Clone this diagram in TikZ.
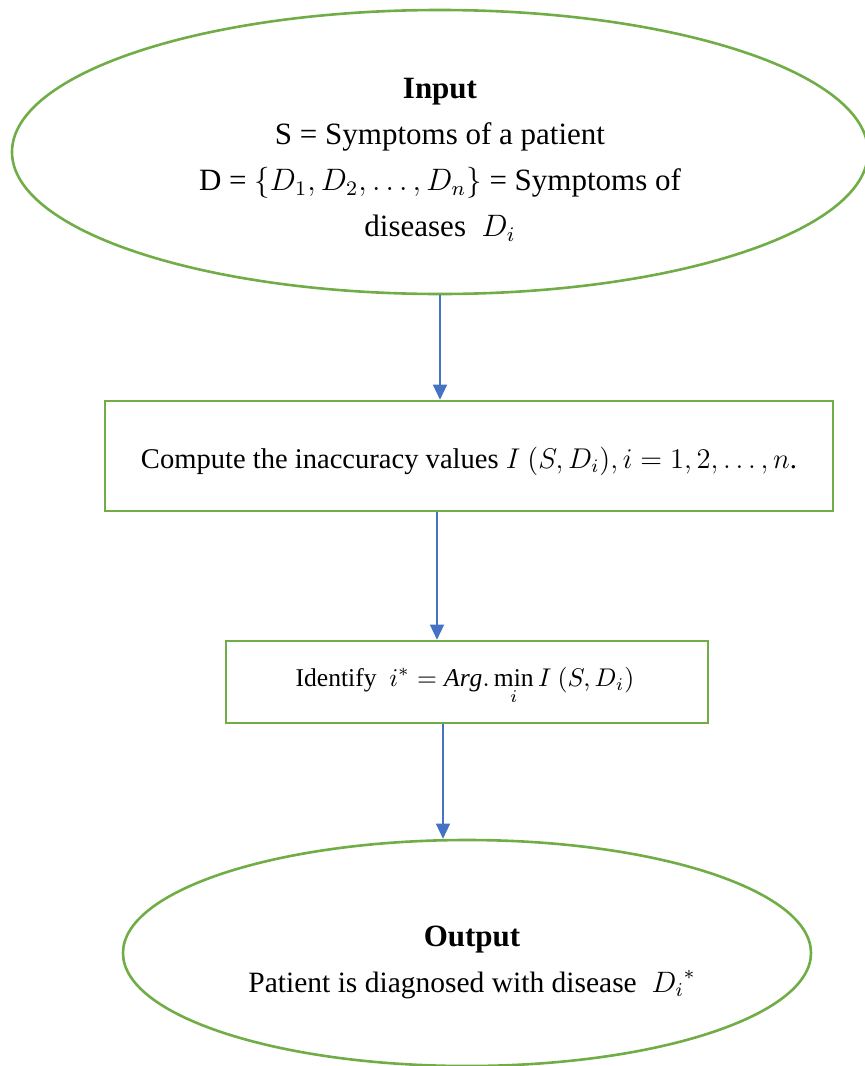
\documentclass[tikz,border=0pt]{standalone}
\usepackage{fontspec}
\setmainfont{Liberation Serif}
\usetikzlibrary{shapes.geometric,arrows.meta}
\definecolor{boxgreen}{HTML}{70AD47}
\definecolor{arrowblue}{HTML}{4472C4}
\tikzset{
  greenline/.style={draw=boxgreen,line width=2.6pt},
  startend/.style={greenline,ellipse,inner sep=0pt},
  procbox/.style={greenline,rectangle,inner sep=0pt},
  plaintext/.style={inner sep=0pt,align=center,transform shape},
  flowarrow/.style={draw=arrowblue,line width=1.3pt,-{Triangle[width=14pt,length=15pt]}}
}
\begin{document}
\begin{tikzpicture}[x=1pt,y=-1pt]
\useasboundingbox (0,0) rectangle (865,1066);
\node[startend,minimum width=856pt,minimum height=284pt] (inp) at (440,152) {};
\node[procbox,minimum width=728pt,minimum height=110pt] (comp) at (469,456) {};
\node[procbox,minimum width=482pt,minimum height=82pt] (ident) at (467,682) {};
\node[startend,minimum width=688pt,minimum height=226pt] (outp) at (467,953) {};
\begin{scope}[shift={(440,160)},scale=2.583]
\node[plaintext,font=\fontsize{12}{17.8}\selectfont] (inptext) at (0,0)
  {\textbf{Input}\\
   S = Symptoms of a patient\\
   D = $\{D_1, D_2, \dots, D_n\}$ = Symptoms of\\
   diseases\ \ $D_i$};
\end{scope}
\begin{scope}[shift={(469,461)},scale=2.38]
\node[plaintext,font=\fontsize{12}{14}\selectfont] (comptext) at (0,0)
  {Compute the inaccuracy values $I\ (S, D_i), i = 1, 2, \dots, n$.};
\end{scope}
\begin{scope}[shift={(465,686)},scale=2.56]
\node[plaintext,font=\fontsize{10}{12}\selectfont] (identtext) at (0,0)
  {Identify\ \ $i^* = \mathit{Arg}.\mathop{\mathrm{min}}\limits_i I\ (S, D_i)$};
\end{scope}
\begin{scope}[shift={(472,962)},scale=2.458]
\node[plaintext,font=\fontsize{12}{18.7}\selectfont] (outptext) at (0,0)
  {{\fontsize{12.6}{18.7}\selectfont\textbf{Output}}\\
   Patient is diagnosed with disease\ \ ${D_i}^*$};
\end{scope}
\draw[flowarrow] (inp.south) -- (inp.south |- comp.north);
\draw[flowarrow] ([xshift=-3pt]inp.south |- comp.south) -- ([xshift=-3pt]inp.south |- ident.north);
\draw[flowarrow] ([xshift=3pt]inp.south |- ident.south) -- ([xshift=3pt]inp.south |- outp.north);
\end{tikzpicture}
\end{document}
